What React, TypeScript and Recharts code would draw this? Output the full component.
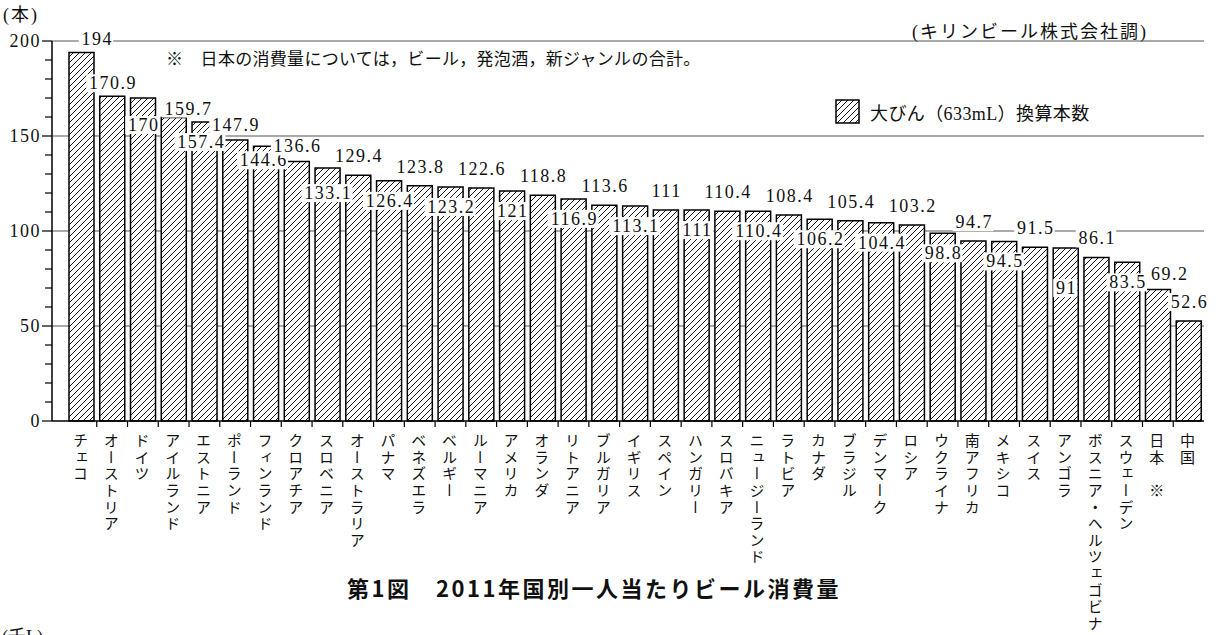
import { BarChart, Bar, XAxis, YAxis, CartesianGrid, LabelList } from 'recharts';

const countries = [
  'チェコ', 'オーストリア', 'ドイツ', 'アイルランド', 'エストニア', 'ポーランド',
  'フィンランド', 'クロアチア', 'スロベニア', 'オーストラリア', 'パナマ', 'ベネズエラ',
  'ベルギー', 'ルーマニア', 'アメリカ', 'オランダ', 'リトアニア', 'ブルガリア',
  'イギリス', 'スペイン', 'ハンガリー', 'スロバキア', 'ニュージーランド', 'ラトビア',
  'カナダ', 'ブラジル', 'デンマーク', 'ロシア', 'ウクライナ', '南アフリカ',
  'メキシコ', 'スイス', 'アンゴラ', 'ボスニア・ヘルツェゴビナ', 'スウェーデン', '日本　※', '中国'
];

// 大びん（633mL）換算本数
const bottles = [
  194, 170.9, 170, 159.7, 157.4, 147.9, 144.6, 136.6, 133.1, 129.4, 126.4, 123.8,
  123.2, 122.6, 121, 118.8, 116.9, 113.6, 113.1, 111, 111, 110.4, 110.4, 108.4,
  106.2, 105.4, 104.4, 103.2, 98.8, 94.7, 94.5, 91.5, 91, 86.1, 83.5, 69.2, 52.6
];

const yMajorTicks = [0, 50, 100, 150, 200];
const yMinorTicks = [10, 20, 30, 40, 60, 70, 80, 90, 110, 120, 130, 140, 160, 170, 180, 190];
const yTicks = [...yMajorTicks, ...yMinorTicks].sort((a, b) => a - b);

const data = countries.map((name, i) => ({ name, value: bottles[i] }));

// layout
const W = 1216;
const H = 635;
const AXIS_X = 52;
const AXIS_Y = 421;
const TOP = 41;
const RIGHT = 1204;
const PAD_LEFT = 14;
const BAND = (RIGHT - AXIS_X - PAD_LEFT) / countries.length;

const SERIF = "'Liberation Serif', 'DejaVu Serif', 'Noto Sans CJK JP', serif";
const JP = "'Noto Sans CJK JP', sans-serif";

// hand placement of a few value labels, [dx, dy]
const labelNudge: Record<number, [number, number]> = {
  0: [15, 6], 1: [0, 6], 2: [0, 7], 3: [14, 10], 4: [-4, 0], 5: [0, 4],
  6: [-3, -6], 7: [0, 4], 8: [0, 5], 32: [0, 20], 35: [11, 3]
};

const ValueLabel = (props: any) => {
  const vb = props.viewBox || {};
  const x = props.x ?? vb.x;
  const y = props.y ?? vb.y;
  const width = props.width ?? vb.width;
  const { value, index } = props;
  const last = bottles.length - 1;
  const above = index === 0 || index === last || index % 2 === 1;
  const [dx, dy] = labelNudge[index] ?? [0, 0];
  const cx = x + width / 2 + dx;
  const cy = (above ? y - 19 : y + 20) + dy;
  const txt = String(value);
  const w = [...txt].reduce((s, c) => s + (c === '.' ? 6 : 10.5), 0);
  return (
    <g>
      <rect x={cx - w / 2 - 2} y={cy - 9} width={w + 3} height={18} fill="#fff" />
      <text x={cx + 0.75} y={cy + 6} textAnchor="middle" fontSize={18} letterSpacing={1.5}
        fontFamily={SERIF} fill="#111">{txt}</text>
    </g>
  );
};

const CountryTick = (props: any) => {
  const { x, y, payload, index } = props;
  return (
    <g>
      {index < countries.length - 1 && (
        <line x1={x + BAND / 2} x2={x + BAND / 2} y1={y} y2={y + 6} stroke="#000" strokeWidth={1.2} />
      )}
      <text x={x - 1} y={y + 12} style={{ writingMode: 'vertical-rl' }} fontSize={15}
        letterSpacing={1.6} fill="#111" fontFamily={JP}>{payload.value}</text>
    </g>
  );
};

const YTick = (props: any) => {
  const { x, y, payload } = props;
  const major = yMajorTicks.includes(payload.value);
  return (
    <g>
      <line x1={x - (major ? 10 : 7)} x2={x} y1={y} y2={y} stroke="#000" strokeWidth={1.2} />
      {major && (
        <text x={x - 11} y={y + 6} textAnchor="end" fontSize={18} letterSpacing={1.5}
          fontFamily={SERIF} fill="#111">{payload.value}</text>
      )}
    </g>
  );
};

export default function App() {
  return (
    <div style={{ position: 'absolute', left: 0, top: 0, width: W, height: H, background: '#fff' }}>
      <BarChart width={W} height={H} data={data}
        margin={{ top: TOP, right: W - RIGHT, bottom: 0, left: 0 }}>
        <defs>
          <pattern id="hatch" patternUnits="userSpaceOnUse" width={6} height={6}>
            <rect width={6} height={6} fill="#fff" />
            <path d="M-1,1 L1,-1 M0,6 L6,0 M5,7 L7,5" stroke="#000" strokeWidth={0.9} />
          </pattern>
        </defs>
        <CartesianGrid vertical={false} horizontalValues={[50, 100, 150, 200]} stroke="#555" />
        <XAxis dataKey="name" height={H - AXIS_Y} interval={0} padding={{ left: PAD_LEFT, right: 0 }}
          tickSize={0} tickMargin={0} tickLine={false} tick={<CountryTick />}
          axisLine={{ stroke: '#000', strokeWidth: 1.5 }} />
        <YAxis width={AXIS_X} domain={[0, 200]} ticks={yTicks} interval={0}
          tickSize={0} tickMargin={0} tickLine={false} tick={<YTick />}
          axisLine={{ stroke: '#000', strokeWidth: 1.5 }} />
        <Bar dataKey="value" fill="url(#hatch)" stroke="#000" strokeWidth={1.5} barSize={25}
          isAnimationActive={false}>
          <LabelList dataKey="value" content={ValueLabel} />
        </Bar>
      </BarChart>

      <svg width={W} height={H} style={{ position: 'absolute', left: 0, top: 0, pointerEvents: 'none' }}>
        <defs>
          <pattern id="hatchLegend" patternUnits="userSpaceOnUse" width={6} height={6}>
            <rect width={6} height={6} fill="#fff" />
            <path d="M-1,1 L1,-1 M0,6 L6,0 M5,7 L7,5" stroke="#000" strokeWidth={0.9} />
          </pattern>
        </defs>
        <text x={3} y={21} fontSize={18} letterSpacing={2} fontFamily={SERIF} fill="#111">(本)</text>
        <text x={912} y={38} fontSize={18} letterSpacing={2} fontFamily={SERIF} fill="#111">(キリンビール株式会社調)</text>
        <text x={166} y={65} fontSize={17} letterSpacing={0.3} fontFamily={SERIF} fill="#111">
          ※　日本の消費量については，ビール，発泡酒，新ジャンルの合計。
        </text>
        <rect x={836} y={100} width={23} height={23} fill="url(#hatchLegend)" stroke="#000" strokeWidth={1.5} />
        <text x={870} y={120} fontSize={18} letterSpacing={0.4} fontFamily={SERIF} fill="#111">大びん（633mL）換算本数</text>
        <text x={594} y={597} textAnchor="middle" fontSize={22} fontWeight={700} letterSpacing={2.5}
          fontFamily={JP} fill="#111">第1図　2011年国別一人当たりビール消費量</text>
        <text x={2} y={643} fontSize={18} fontFamily={SERIF} fill="#111">(千L)</text>
      </svg>
    </div>
  );
}
